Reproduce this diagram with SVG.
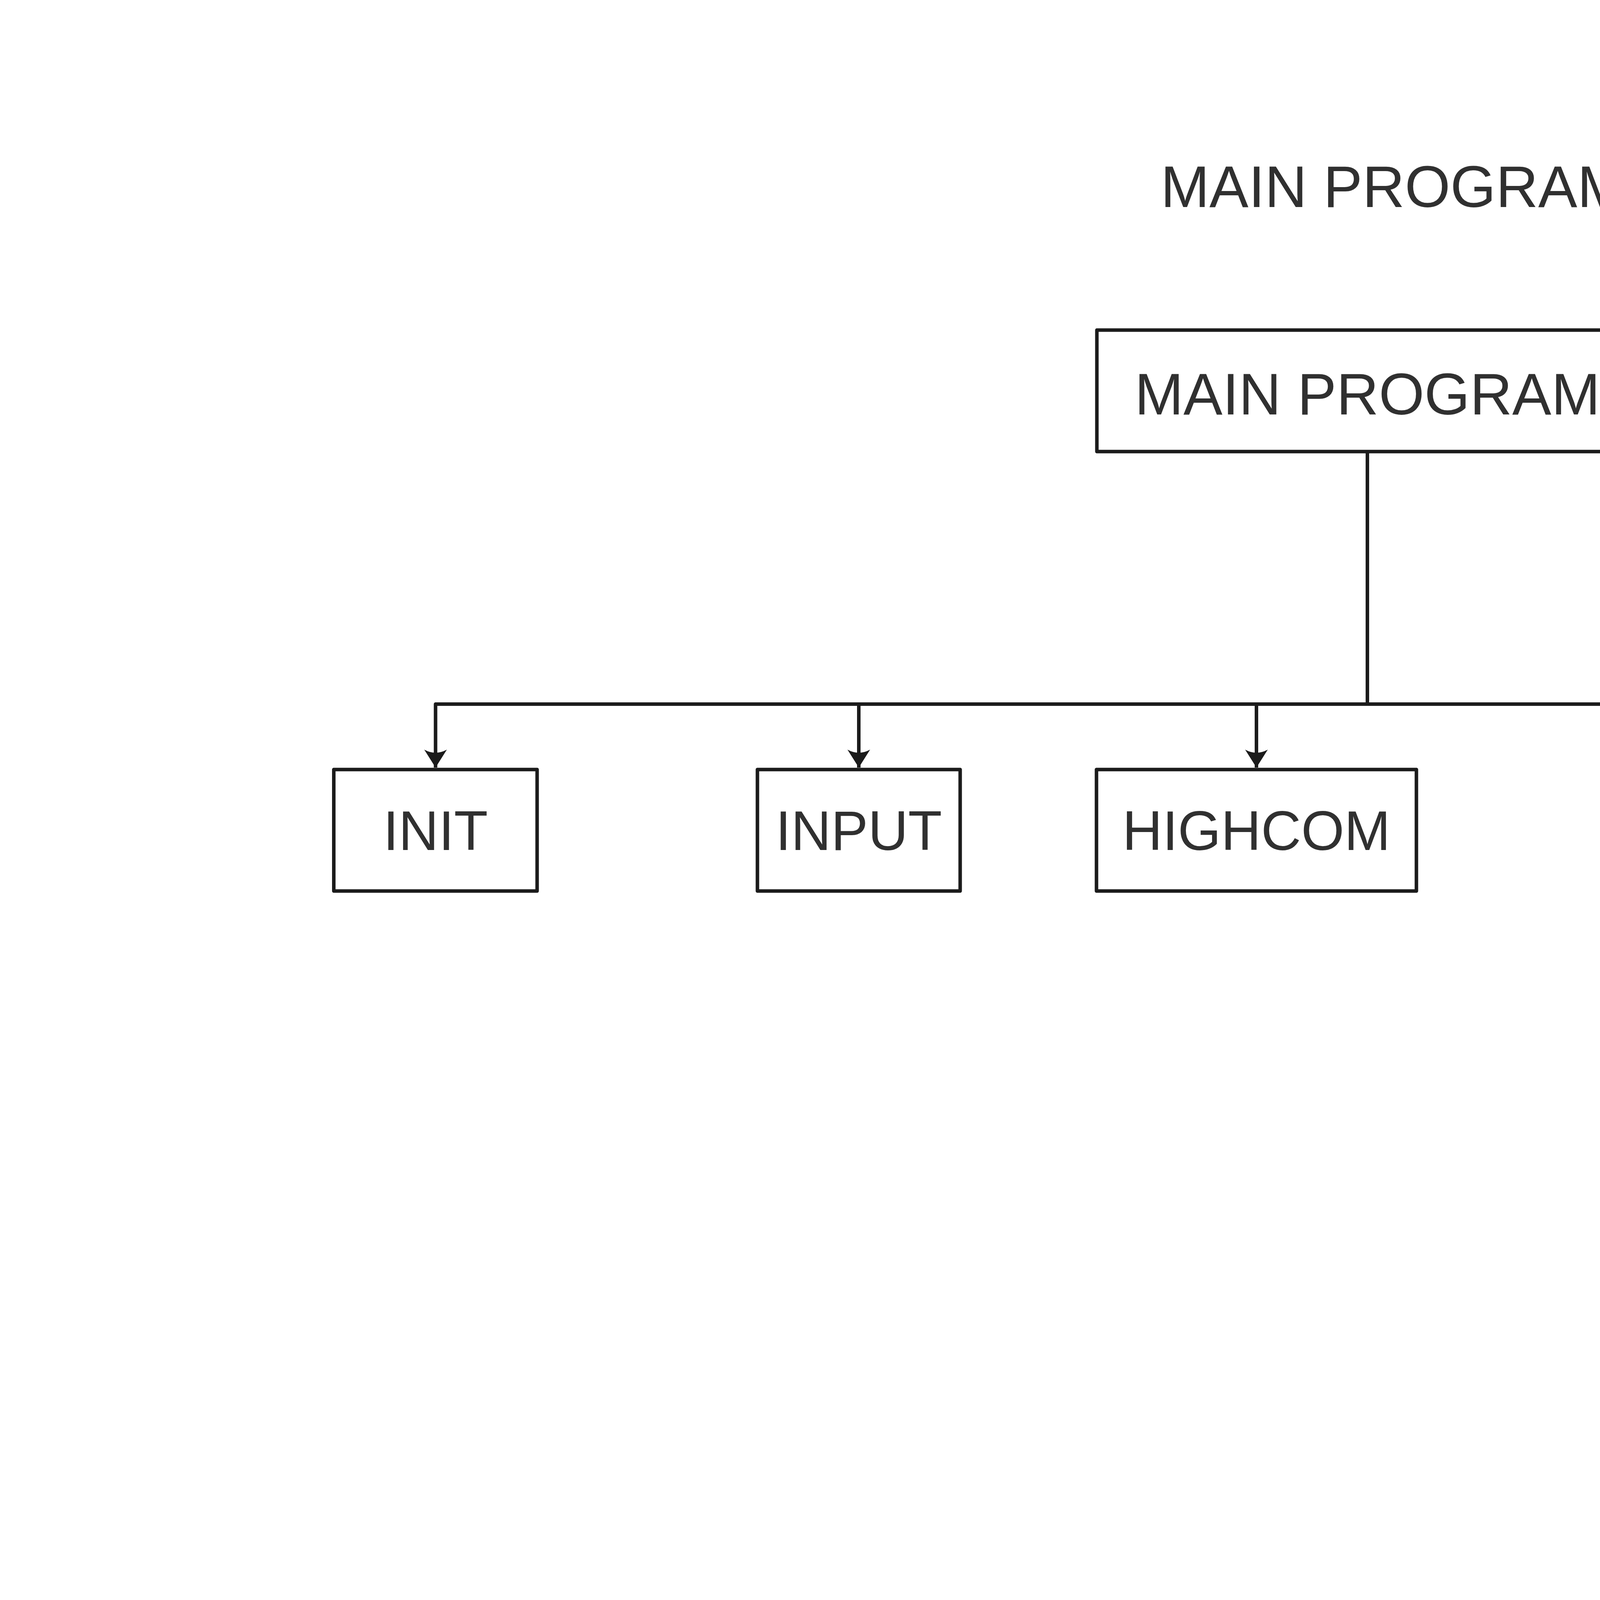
<svg xmlns="http://www.w3.org/2000/svg" width="7001" height="4251" viewBox="0 0 7001 4251">
  <defs>
    <style>
      .box { fill: #ffffff; stroke: #1b1b1b; stroke-width: 9; stroke-linejoin: round; }
      .lbl { font-family: "Liberation Sans", Arial, sans-serif; fill: #303030; text-anchor: middle; }
      .big { font-size: 150px; }
      .small { font-size: 142px; }
      .conn { fill: none; stroke: #1b1b1b; stroke-width: 9; stroke-linejoin: round; }
    </style>
    <marker id="arrow" viewBox="-50 -32 52 64" refX="0" refY="0" markerWidth="52" markerHeight="64" markerUnits="userSpaceOnUse" orient="auto">
      <path d="M0,0 L-46,-29 Q-30,0 -46,29 Z" fill="#1b1b1b"/>
    </marker>
  </defs>
  <rect x="0" y="0" width="7001" height="4251" fill="#ffffff"/>

  <g id="title">
    <text class="lbl big" x="3567" y="530">MAIN PROGRAM</text>
  </g>

  <g id="connectors">
    <path class="conn" d="M3500.5,1156 V1802.5"/>
    <path class="conn" d="M3500.5,1802.5 H1115 V1965" marker-end="url(#arrow)"/>
    <path class="conn" d="M3500.5,1802.5 H2198.5 V1965" marker-end="url(#arrow)"/>
    <path class="conn" d="M3500.5,1802.5 H3216.5 V1965" marker-end="url(#arrow)"/>
    <path class="conn" d="M3500.5,1802.5 H4610 V1965" marker-end="url(#arrow)"/>
    <path class="conn" d="M3500.5,1802.5 H5896 V1965" marker-end="url(#arrow)"/>
  </g>

  <g id="node-main">
    <rect class="box" x="2808" y="845" width="1385" height="311"/>
    <text class="lbl big" x="3500.5" y="1061">MAIN PROGRAM</text>
  </g>
  <g id="node-init">
    <rect class="box" x="854.5" y="1970" width="520.5" height="311"/>
    <text class="lbl small" x="1115" y="2176">INIT</text>
  </g>
  <g id="node-input">
    <rect class="box" x="1939" y="1970" width="519" height="311"/>
    <text class="lbl small" x="2198.5" y="2176">INPUT</text>
  </g>
  <g id="node-highcom">
    <rect class="box" x="2807" y="1970" width="819" height="311"/>
    <text class="lbl small" x="3216.5" y="2176">HIGHCOM</text>
  </g>
  <g id="node-nocom">
    <rect class="box" x="4194" y="1970" width="832" height="311"/>
    <text class="lbl small" x="4610" y="2176">NOCOM</text>
  </g>
  <g id="node-displayinfo">
    <rect class="box" x="5355" y="1970" width="1082" height="311"/>
    <text class="lbl small" x="5896" y="2176">DISPLAYINFO</text>
  </g>
</svg>
